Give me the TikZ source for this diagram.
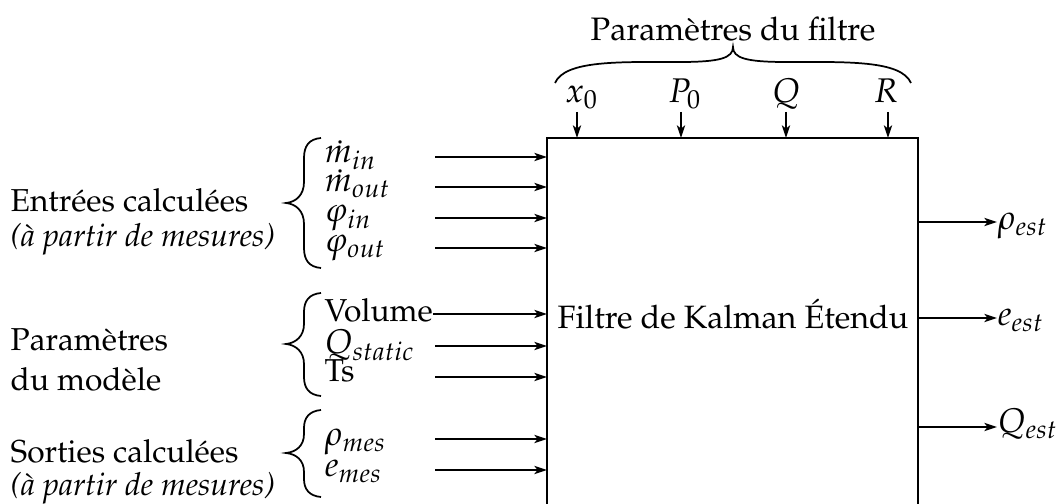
\documentclass[tikz,border=0pt]{standalone}
\usepackage[T1]{fontenc}
\usepackage{mathpazo}
\usetikzlibrary{arrows.meta}
\begin{document}
\begin{tikzpicture}[x=0.3155pt,y=-0.3155pt,
  font=\fontsize{10}{12}\selectfont,
  lbl/.style={inner sep=0pt,anchor=base west},
  ctr/.style={inner sep=0pt,anchor=base},
  mth/.style={font=\fontsize{10.8}{13}\selectfont},
  arr/.style={line width=0.42pt,-{Stealth[length=4pt,width=2.6pt,inset=1pt]}},
  brc/.style={line width=0.55pt},
  boxline/.style={line width=0.5pt}]
\useasboundingbox (0,0) rectangle (1060,504);
\clip (0,0) rectangle (1060,504);
% main box
\coordinate (kfnw) at (547,138);
\coordinate (kfse) at (918,540);
\draw[boxline] (kfnw) rectangle (kfse);
\node[ctr,font=\fontsize{10.2}{12}\selectfont] (kf) at (733,329) {Filtre de Kalman \'Etendu};
% top parameters
\node[ctr,font=\fontsize{10.25}{12}\selectfont] (ptitle) at (733,41) {Param\`etres du filtre};
\draw[brc] (555,83) .. controls (565,60) and (620,62) .. (680,62)
  .. controls (720,62) and (733,58) .. (733,47)
  .. controls (733,58) and (746,62) .. (786,62)
  .. controls (846,62) and (901,60) .. (911,83);
\node[ctr,mth] (x0) at (582,103) {$x_0$};
\node[ctr,mth] (P0) at (685,103) {$P_0$};
\node[ctr,mth] (Qp) at (786,103) {$Q$};
\node[ctr,mth] (Rp) at (886,103) {$R$};
\foreach \n/\xx in {x0/577,P0/681,Qp/786,Rp/888}{
  \coordinate (t\n) at (\xx,112);
  \draw[arr] (t\n) -- (t\n |- kfnw);
}
% group 1
\node[lbl] (g1a) at (10,212) {Entr\'ees calcul\'ees};
\node[lbl] (g1b) at (10,247) {\itshape (\`a partir de mesures)};
\draw[brc] (321,138) .. controls (309,139) and (304,146) .. (304,158) -- (304,182)
  .. controls (304,195) and (296,202) .. (286,203)
  .. controls (296,204) and (304,211) .. (304,224) -- (304,248)
  .. controls (304,260) and (309,267) .. (321,268);
\node[lbl,mth] (min) at (324,163) {$\dot m_{in}$};
\node[lbl,mth] (mout) at (324,192) {$\dot m_{out}$};
\node[lbl,mth] (phin) at (324,222) {$\varphi_{in}$};
\node[lbl,mth] (phout) at (324,252) {$\varphi_{out}$};
\foreach \n/\yy in {min/157,mout/187,phin/218,phout/248}{
  \coordinate (s\n) at (435,\yy);
  \draw[arr] (s\n) -- (s\n -| kfnw);
}
% group 2
\node[lbl] (g2a) at (10,351) {Param\`etres};
\node[lbl] (g2b) at (10,391) {du mod\`ele};
\draw[brc] (321,293) .. controls (309,294) and (304,301) .. (304,312) -- (304,324)
  .. controls (304,336) and (296,343) .. (286,344)
  .. controls (296,345) and (304,352) .. (304,364) -- (304,377)
  .. controls (304,388) and (309,395) .. (321,396);
\node[lbl] (vol) at (324,322) {Volume};
\node[lbl,mth] (qst) at (324,354) {$Q_{static}$};
\node[lbl] (ts) at (324,382) {Ts};
\coordinate (svol) at (vol.east |- 0,314);
\draw[arr] (svol) -- (svol -| kfnw);
\foreach \n/\yy in {qst/346,ts/377}{
  \coordinate (s\n) at (435,\yy);
  \draw[arr] (s\n) -- (s\n -| kfnw);
}
% group 3
\node[lbl] (g3a) at (10,463) {Sorties calcul\'ees};
\node[lbl] (g3b) at (10,496) {\itshape (\`a partir de mesures)};
\draw[brc] (321,410) .. controls (309,411) and (304,418) .. (304,428) -- (304,434)
  .. controls (304,446) and (296,452) .. (286,453)
  .. controls (296,454) and (304,460) .. (304,472) -- (304,479)
  .. controls (304,489) and (309,496) .. (321,497);
\node[lbl,mth] (rmes) at (324,446) {$\rho_{mes}$};
\node[lbl,mth] (emes) at (324,477) {$e_{mes}$};
\foreach \n/\yy in {rmes/439,emes/470}{
  \coordinate (s\n) at (435,\yy);
  \draw[arr] (s\n) -- (s\n -| kfnw);
}
% outputs
\node[lbl,mth] (rest) at (997,230) {$\rho_{est}$};
\node[lbl,mth] (eest) at (997,326) {$e_{est}$};
\node[lbl,mth] (qest) at (997,433) {$Q_{est}$};
\foreach \n/\yy in {rest/222,eest/318,qest/427}{
  \coordinate (o\n) at (kfse |- 0,\yy);
  \draw[arr] (o\n) -- (\n.west |- o\n);
}
\end{tikzpicture}
\end{document}
